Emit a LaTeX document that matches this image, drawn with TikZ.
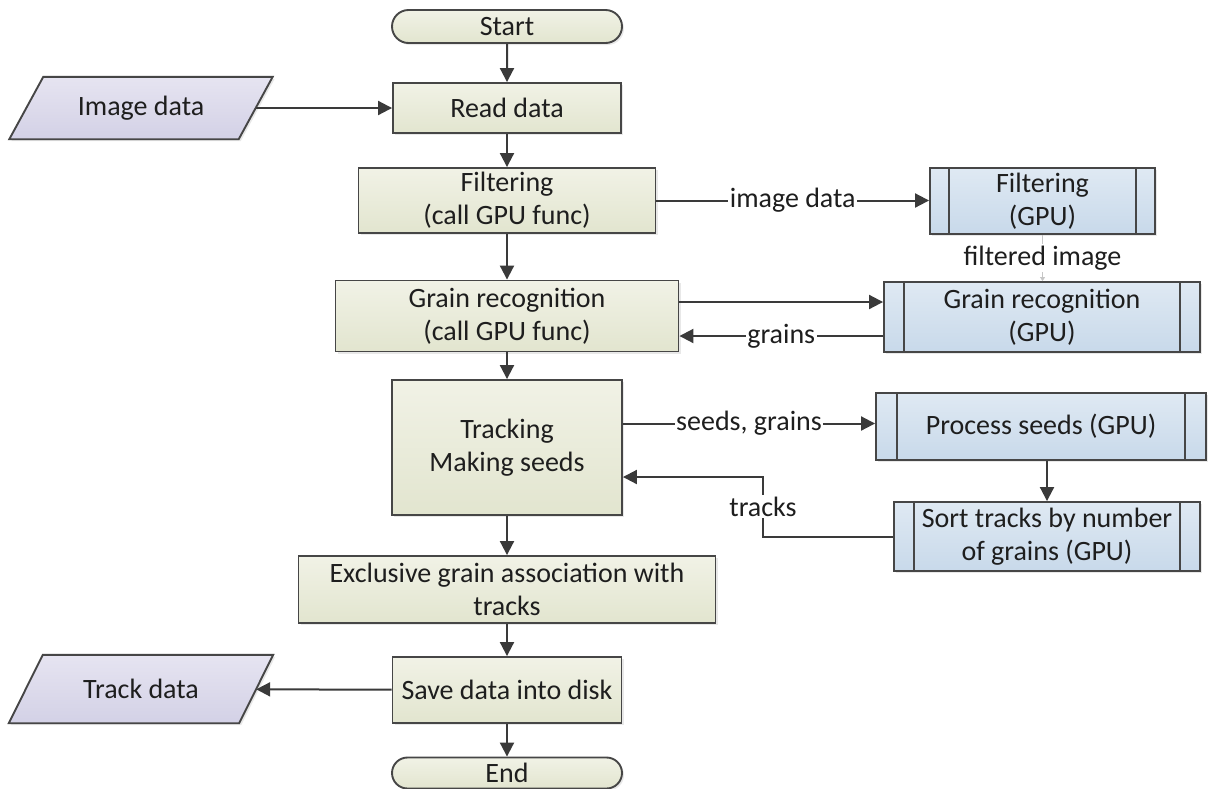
\documentclass[tikz,border=0pt]{standalone}
\usepackage{fontspec}
\setmainfont{Carlito}
\usetikzlibrary{arrows.meta,calc,shadows,backgrounds,shapes.misc}

\definecolor{ln}{HTML}{3A3A3A}
\definecolor{bd}{HTML}{464646}
\definecolor{tx}{HTML}{1E1E1E}
\definecolor{gT}{HTML}{F1F2E6}
\definecolor{gB}{HTML}{E2E5CF}
\definecolor{bT}{HTML}{DFE9F3}
\definecolor{bB}{HTML}{C8D9EA}
\definecolor{pT}{HTML}{E6E4F1}
\definecolor{pB}{HTML}{D3D1E6}

\tikzset{
  txt/.style={font=\fontsize{28}{33}\selectfont, text=tx, align=center},
  base/.style={txt, draw=bd, line width=1.9pt, inner sep=0pt,
    drop shadow={opacity=0.18, shadow xshift=2pt, shadow yshift=-2pt}},
  proc/.style={base, top color=gT, bottom color=gB},
  term/.style={base, rounded rectangle, top color=gT, bottom color=gB},
  gpu/.style={base, top color=bT, bottom color=bB,
    path picture={\draw[bd, line width=1.6pt]
      ([xshift=#1]path picture bounding box.north west) -- ([xshift=#1]path picture bounding box.south west)
      ([xshift=-#1]path picture bounding box.north east) -- ([xshift=-#1]path picture bounding box.south east);}},
  gpu/.default=20pt,
  io/.style={txt, inner sep=0pt},
  para/.style={draw=bd, line width=1.9pt, top color=pT, bottom color=pB},
  conn/.style={draw=ln, line width=2pt, -{Triangle[length=14pt,width=14pt]}},
  lbl/.style={txt, fill=white, inner sep=1.5pt},
}

\begin{document}
\begin{tikzpicture}[x=1pt,y=-1pt]
\useasboundingbox (0,0) rectangle (1210,788);

% main column
\node[term, minimum width=230pt, minimum height=33pt] (start) at (507,26.5) {Start};
\node[proc, minimum width=228pt, minimum height=50pt] (read) at (507,108) {Read data};
\node[proc, minimum width=297pt, minimum height=65pt] (filt) at (507,200.5) {Filtering\\(call GPU func)};
\node[proc, minimum width=343pt, minimum height=71pt] (grain) at (507,316) {Grain recognition\\(call GPU func)};
\node[proc, minimum width=230pt, minimum height=135pt] (track) at (507,447.5) {Tracking\\Making seeds};
\node[proc, minimum width=417pt, minimum height=67pt] (excl) at (507,589.5) {Exclusive grain association with\\tracks};
\node[proc, minimum width=229pt, minimum height=66pt] (save) at (507,690) {Save data into disk};
\node[term, minimum width=230pt, minimum height=31pt] (end) at (507,773) {End};

% GPU column
\node[gpu=19pt, minimum width=225pt, minimum height=66pt] (filtgpu) at (1042.5,201) {Filtering\\(GPU)};
\node[gpu=20pt, minimum width=316pt, minimum height=70pt] (graingpu) at (1042,317) {Grain recognition\\(GPU)};
\node[gpu=21pt, minimum width=330pt, minimum height=67pt] (procgpu) at (1041,426.5) {Process seeds (GPU)};
\node[gpu=20pt, minimum width=306pt, minimum height=69pt] (sortgpu) at (1047,536.5) {Sort tracks by number\\of grains (GPU)};

% data (parallelograms)
\node[io, minimum width=229pt, minimum height=62pt] (imgdata) at (141,108) {Image data};
\node[io, minimum width=230pt, minimum height=68pt] (trkdata) at (141,689) {Track data};
\begin{scope}[on background layer]
\fill[white] (0,0) rectangle (1210,788);
\path[para, drop shadow={opacity=0.18, shadow xshift=2pt, shadow yshift=-2pt}]
  ([xshift=17pt]imgdata.north west) -- ([xshift=17pt]imgdata.north east)
  -- ([xshift=-17pt]imgdata.south east) -- ([xshift=-17pt]imgdata.south west) -- cycle;
\path[para, drop shadow={opacity=0.18, shadow xshift=2pt, shadow yshift=-2pt}]
  ([xshift=17pt]trkdata.north west) -- ([xshift=17pt]trkdata.north east)
  -- ([xshift=-17pt]trkdata.south east) -- ([xshift=-17pt]trkdata.south west) -- cycle;
\end{scope}

% connectors
\draw[conn] (start) -- (read);
\draw[conn] (imgdata) -- (read);
\draw[conn] (read) -- (filt);
\draw[conn] (filt) -- (grain);
\draw[conn] (grain) -- (track);
\draw[conn] (track) -- (excl);
\draw[conn] (excl) -- (save);
\draw[conn] (save) -- (end);
\draw[conn] (save) -- (trkdata);

\draw[conn] (filt.east) -- (filt.east -| filtgpu.west) node[lbl, midway] {image data};
\draw[draw=gray!45, line width=0.8pt, -{Triangle[length=4pt,width=5pt]}]
  (filtgpu.south) -- (filtgpu.south |- graingpu.north) node[lbl, midway] {filtered image};
\draw[conn] ([yshift=14pt]grain.east) -- ([yshift=14pt]grain.east -| graingpu.west);
\draw[conn] ([yshift=-19pt]graingpu.west) -- ([yshift=-19pt]graingpu.west -| grain.east)
  node[lbl, midway] {grains};
\draw[conn] ([yshift=24pt]track.east) -- ([yshift=24pt]track.east -| procgpu.west)
  node[lbl, midway] {seeds, grains};
\draw[conn] (sortgpu.north |- procgpu.south) -- (sortgpu.north);
\coordinate (tk) at (763,477);
\draw[conn] (sortgpu.west) -| (tk) node[lbl, pos=0.75] {tracks} -- (tk -| track.east);
\end{tikzpicture}
\end{document}
